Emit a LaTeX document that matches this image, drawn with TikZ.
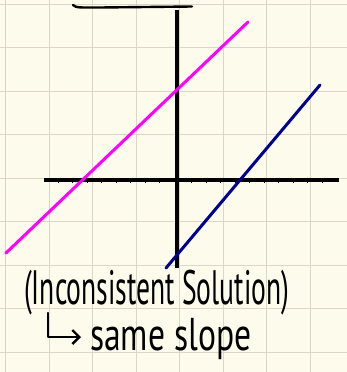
\documentclass[tikz,border=0pt]{standalone}
\usepackage{fontspec}
\usepackage{graphicx}
\usepackage{xcolor}
\usepackage{tikz}
\usetikzlibrary{arrows.meta, positioning}
\setmainfont{PT Sans}
\definecolor{paper}{RGB}{253,251,236}
\definecolor{gridbeige}{RGB}{219,215,196}
\definecolor{linemagenta}{RGB}{255,0,255}
\definecolor{linenavy}{RGB}{0,0,145}

\begin{document}
\begin{tikzpicture}[
  x=1pt, y=-1pt,
  gridline/.style={draw=gridbeige, line width=1pt},
  axis/.style={draw=black, line width=3.2pt},
  tick/.style={draw=black, line width=0.8pt},
  graphline/.style={line width=3pt, line cap=round},
  hand/.style={font=\fontsize{46}{50}\selectfont, inner sep=0pt, anchor=base west},
  hook/.style={-{Straight Barb[length=7pt, width=14pt]}, line width=2.4pt, line cap=round, line join=round}
]
  % paper and grid
  \fill[paper] (0,0) rectangle (347,372);
  \useasboundingbox (0,0) rectangle (347,372);
  \foreach \gx in {5.5,49,92.5,136,179.5,223,266.5,310}
    \draw[gridline] (\gx,0) -- (\gx,372);
  \foreach \gy in {4,47.5,91,134.5,178,221.5,265,308.5,352}
    \draw[gridline] (0,\gy) -- (347,\gy);

  % heading underline, cut off at the top
  \draw[line width=2.4pt, line cap=round] (73,5) .. controls (76,8) and (80,7.5) .. (100,7.5) -- (192,6.5);

  % axes
  \coordinate (xleft) at (44,180);
  \coordinate (xright) at (339,180);
  \coordinate (ytop) at (177,10);
  \coordinate (ybottom) at (177,268);
  \draw[axis] (xleft) -- (xright);
  \draw[axis] (ytop) -- (ybottom);
  \foreach \tx in {58,72.5,87,101.5,116,130.5,145,159.5,191.5,206,220.5,235,249.5,264,278.5,293,307.5,322}
    \draw[tick] (\tx,177.5) -- (\tx,182.5);

  % the two lines
  \coordinate (magstart) at (6,253);
  \coordinate (magend) at (248,22);
  \coordinate (navystart) at (166,268);
  \coordinate (navyend) at (320,85);
  \draw[graphline, linemagenta] (magstart) -- (magend);
  \draw[graphline, linenavy] (navystart) -- (navyend);

  % notes
  \node[hand] (kind) at (24,304) {\scalebox{0.6}[1.05]{(Inconsistent Solution)}};
  \node[hand] (why) at (90,350) {\scalebox{0.73}[1]{same slope}};
  \coordinate (hooktop) at (48,313);
  \coordinate (hookend) at (81,337);
  \draw[hook] (hooktop) |- (hookend);
\end{tikzpicture}
\end{document}
